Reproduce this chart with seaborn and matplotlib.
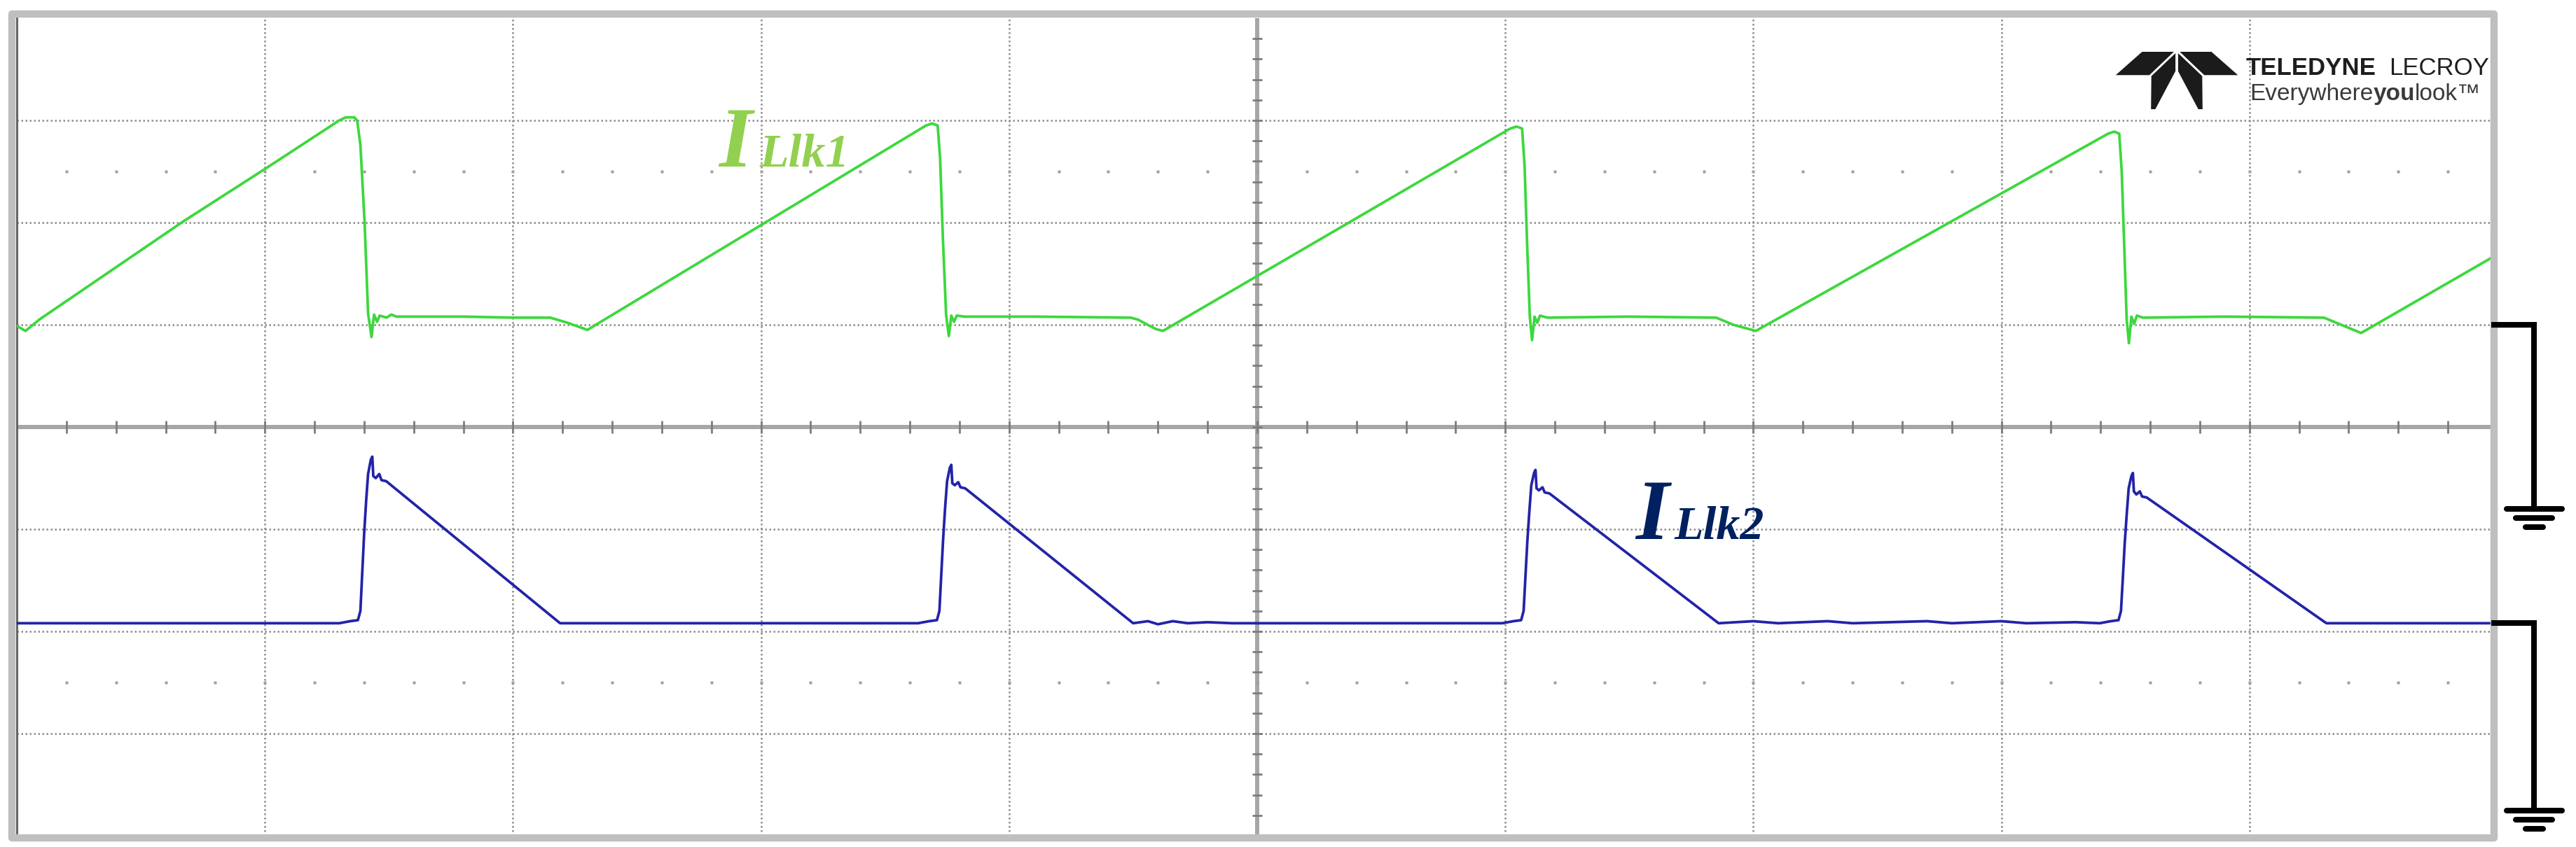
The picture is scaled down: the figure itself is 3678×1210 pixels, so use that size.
# Scope capture of the two leakage inductor currents ILlk1 / ILlk2 (Teledyne LeCroy screen)

import seaborn as sns
import numpy as np
import matplotlib.pyplot as plt
import pandas as pd
from matplotlib.patches import Polygon, Rectangle
from matplotlib.lines import Line2D

W, H = 3678, 1210

# Values, in divisions (time 0..10, amplitude -4..4 around screen centre)
green_t = [0.00, 0.035, 0.09, 0.67, 1.01, 1.30, 1.326, 1.36, 1.372, 1.385, 1.402, 1.416,
           1.430, 1.440, 1.452, 1.463, 1.49, 1.51, 1.53, 1.80, 2.00, 2.15, 2.22, 2.30,
           3.665, 3.69, 3.712, 3.722, 3.733, 3.746, 3.757, 3.767, 3.778, 3.789, 3.82, 4.10,
           4.49, 4.52, 4.59, 4.62,
           6.02, 6.046, 6.068, 6.078, 6.088, 6.099, 6.108, 6.118, 6.129, 6.14, 6.17, 6.50,
           6.85, 6.92, 7.01,
           8.43, 8.455, 8.475, 8.485, 8.495, 8.505, 8.514, 8.524, 8.535, 8.546, 8.57, 8.90,
           9.30, 9.37, 9.45, 10.0]
green_v = [0.99, 0.94, 1.05, 2.01, 2.54, 3.00, 3.03, 3.03, 3.00, 2.76, 2.00, 1.11,
           0.88, 1.10, 1.03, 1.09, 1.07, 1.10, 1.08, 1.08, 1.07, 1.07, 1.02, 0.95,
           2.95, 2.97, 2.95, 2.62, 1.85, 1.10, 0.89, 1.09, 1.03, 1.09, 1.08, 1.08,
           1.07, 1.05, 0.96, 0.94,
           2.92, 2.94, 2.92, 2.55, 1.80, 1.08, 0.85, 1.08, 1.02, 1.09, 1.07, 1.08,
           1.07, 1.00, 0.94,
           2.87, 2.89, 2.87, 2.50, 1.78, 1.05, 0.82, 1.08, 1.01, 1.09, 1.07, 1.08,
           1.07, 1.00, 0.92, 1.69]

blue_t = [0.00,
          1.30, 1.344, 1.375, 1.385, 1.392, 1.400, 1.408, 1.416, 1.427, 1.433, 1.437,
          1.447, 1.461, 1.470, 1.489, 2.19,
          3.633, 3.678, 3.709, 3.719, 3.726, 3.734, 3.742, 3.750, 3.761, 3.767, 3.771,
          3.781, 3.795, 3.804, 3.823, 4.50,
          4.56, 4.60, 4.66, 4.72, 4.80, 4.90, 5.00,
          5.988, 6.033, 6.064, 6.074, 6.081, 6.089, 6.097, 6.105, 6.116, 6.122, 6.126,
          6.136, 6.150, 6.159, 6.178, 6.86,
          7.00, 7.10, 7.30, 7.40, 7.70, 7.80, 8.00, 8.10, 8.30,
          8.396, 8.441, 8.472, 8.482, 8.489, 8.497, 8.505, 8.513, 8.524, 8.530, 8.534,
          8.544, 8.558, 8.567, 8.586, 9.31,
          10.0]
blue_v = [-1.92,
          -1.92, -1.90, -1.89, -1.80, -1.45, -1.05, -0.73, -0.46, -0.32, -0.29, -0.48,
          -0.50, -0.46, -0.52, -0.53, -1.92,
          -1.92, -1.90, -1.89, -1.80, -1.47, -1.10, -0.79, -0.53, -0.40, -0.37, -0.55,
          -0.57, -0.54, -0.59, -0.60, -1.92,
          -1.90, -1.93, -1.90, -1.92, -1.91, -1.92, -1.92,
          -1.92, -1.90, -1.89, -1.80, -1.48, -1.12, -0.83, -0.57, -0.45, -0.42, -0.60,
          -0.62, -0.59, -0.64, -0.65, -1.92,
          -1.90, -1.92, -1.90, -1.92, -1.90, -1.92, -1.90, -1.92, -1.91,
          -1.92, -1.90, -1.89, -1.80, -1.50, -1.14, -0.86, -0.60, -0.48, -0.45, -0.63,
          -0.66, -0.63, -0.68, -0.69, -1.92,
          -1.92]

green_gnd = 1.0      # channel 1 ground marker level
blue_gnd = -1.92     # channel 2 ground marker level

trace_names = ['ILlk1', 'ILlk2']
trace_colors = ['#3cd83c', '#2323a8']

df = pd.concat([
    pd.DataFrame({'t': green_t, 'i': green_v, 'trace': trace_names[0]}),
    pd.DataFrame({'t': blue_t, 'i': blue_v, 'trace': trace_names[1]}),
], ignore_index=True)


def fx(x):
    return x / W


def fy(y):
    return 1 - y / H


sns.set_theme(style="white")
plt.rcParams['font.family'] = ['Liberation Serif', 'DejaVu Sans']

fig = plt.figure(figsize=(W / 100, H / 100), dpi=100)
fig.patch.set_facecolor('white')
ax = fig.add_axes([fx(24), 16 / H, 3542 / W, 1168 / H])

# scope graticule
for x in range(1, 10):
    if x != 5:
        ax.axvline(x, color='#8c8c8c', lw=1.8, ls=(0, (1, 1.4)), zorder=1)
for y in range(-3, 4):
    if y != 0:
        ax.axhline(y, color='#8c8c8c', lw=1.8, ls=(0, (1, 1.4)), zorder=1)
ax.axhline(0, color='#a6a6a6', lw=4.3, zorder=1)
ax.axvline(5, color='#a6a6a6', lw=4.3, zorder=1)
minor_x = np.arange(1, 50) * 0.2
minor_y = np.arange(-19, 20) * 0.2
ax.vlines(minor_x, -0.06, 0.06, color='#7c7c7c', lw=2, zorder=1)
ax.hlines(minor_y, 4.98, 5.02, color='#7c7c7c', lw=2, zorder=1)
for y in (2.5, -2.5):
    ax.plot(minor_x, np.full_like(minor_x, y), ls='none', marker='s', ms=2.6,
            color='#a0a0a0', mec='none', zorder=1)

# traces
sns.lineplot(data=df, x='t', y='i', hue='trace', palette=trace_colors, sort=False,
             estimator=None, lw=2.7, legend=False, ax=ax, zorder=3)

ax.set_xlim(0, 10)
ax.set_ylim(-4, 4)
ax.set_xticks([])
ax.set_yticks([])
ax.set_xlabel('')
ax.set_ylabel('')
for s in ['top', 'right', 'bottom']:
    ax.spines[s].set_visible(False)
ax.spines['left'].set_color('#666666')
ax.spines['left'].set_linewidth(2.2)

# grey screen frame
fig.add_artist(Rectangle((fx(16.5), fy(1197)), fx(3560.5) - fx(16.5), fy(20) - fy(1197),
                         transform=fig.transFigure, fill=False, ec='#bfbfbf', lw=7.5,
                         joinstyle='round', zorder=5))

# ground markers right of the screen
for lvl, bottom in [(green_gnd, -0.80), (blue_gnd, -3.75)]:
    fig.add_artist(Line2D([9.975, 10.147, 10.147], [lvl, lvl, bottom], transform=ax.transData,
                          color='black', lw=5.8, solid_joinstyle='miter', solid_capstyle='butt',
                          zorder=6))
    for dy, x0, x1 in [(0, 10.036, 10.260), (-0.09, 10.073, 10.220), (-0.18, 10.112, 10.184)]:
        fig.add_artist(Line2D([x0, x1], [bottom + dy, bottom + dy], transform=ax.transData,
                              color='black', lw=5.8, solid_capstyle='round', zorder=6))

# trace labels
label_kw = dict(family='Liberation Serif', weight='bold', style='italic', va='baseline', ha='left')
fig.text(fx(1026), fy(238), 'I', fontsize=88, color='#92d050', **label_kw)
fig.text(fx(1084), fy(238), 'Llk1', fontsize=49, color='#92d050', **label_kw)
fig.text(fx(2335), fy(770), 'I', fontsize=88, color='#002060', **label_kw)
fig.text(fx(2390), fy(770), 'Llk2', fontsize=49, color='#002060', **label_kw)

# Teledyne LeCroy logo
logo_shapes = [
    [(3058.5, 74.0), (3103.8, 74.0), (3068.9, 107.3), (3020.8, 107.3)],
    [(3112.3, 74.0), (3157.5, 74.0), (3195.3, 107.3), (3147.2, 107.3)],
    [(3106.1, 76.0), (3071.7, 108.7), (3071.2, 156.0), (3077.4, 156.0), (3106.1, 101.7)],
    [(3109.9, 76.0), (3144.3, 108.7), (3144.8, 156.0), (3138.7, 156.0), (3109.9, 101.7)],
]
for shape in logo_shapes:
    fig.add_artist(Polygon([(fx(a), fy(b)) for a, b in shape], closed=True,
                           transform=fig.transFigure, fc='#1b1b1b', ec='none', zorder=6))

logo_kw = dict(family='Liberation Sans', va='baseline', zorder=6)
fig.text(fx(3207), fy(107), 'TELEDYNE', fontsize=25, weight='bold', ha='left',
         color='#1e1e1e', **logo_kw)
fig.text(fx(3554), fy(107), 'LECROY', fontsize=25, ha='right', color='#1e1e1e', **logo_kw)

fig.canvas.draw()
rend = fig.canvas.get_renderer()
x_cur = 3212
for part, wt in [('Everywhere', 'normal'), ('you', 'bold'), ('look\u2122', 'normal')]:
    t = fig.text(fx(x_cur), fy(143), part, fontsize=24, weight=wt, ha='left',
                 color='#3a3a3a', **logo_kw)
    x_cur = t.get_window_extent(rend).x1

fig.savefig("out.png", dpi=100)
